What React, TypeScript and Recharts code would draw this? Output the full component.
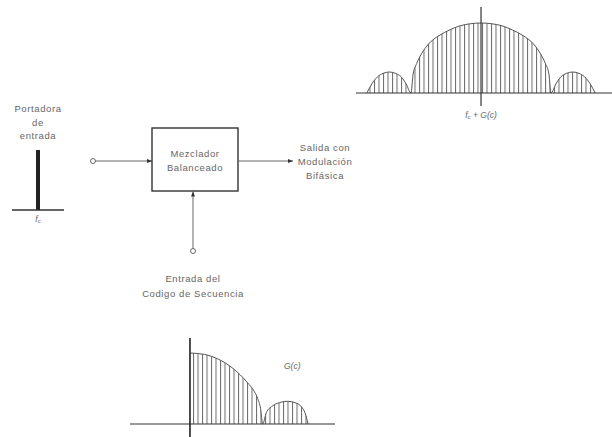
import React from 'react';
import {
  AreaChart,
  Area,
  BarChart,
  Bar,
  XAxis,
  YAxis,
  ReferenceLine,
  ReferenceDot,
} from 'recharts';

// spectrum of the modulated output (units of chip rate around fc)
const outFreq = [
  -1.63, -1.56, -1.48, -1.4, -1.31, -1.22, -1.14, -1.07, -1.0,
  -0.97, -0.92, -0.85, -0.75, -0.6, -0.45, -0.3, -0.15, 0,
  0.15, 0.3, 0.45, 0.6, 0.75, 0.85, 0.92, 0.97, 1.0,
  1.07, 1.14, 1.22, 1.31, 1.4, 1.48, 1.56, 1.63,
];
const outLevel = [
  0, 0.13, 0.23, 0.28, 0.3, 0.28, 0.23, 0.13, 0,
  0.27, 0.42, 0.56, 0.7, 0.82, 0.9, 0.96, 0.99, 1.0,
  0.99, 0.96, 0.9, 0.82, 0.7, 0.56, 0.42, 0.27, 0,
  0.13, 0.23, 0.28, 0.3, 0.28, 0.23, 0.13, 0,
];

// spectrum of the sequence code G(c)
const codeFreq = [0, 0.2, 0.4, 0.55, 0.7, 0.8, 0.88, 0.94, 0.98, 1.01, 1.06, 1.14, 1.24, 1.35, 1.46, 1.55, 1.6, 1.64];
const codeLevel = [1.0, 0.98, 0.91, 0.82, 0.69, 0.58, 0.48, 0.36, 0.22, 0, 0.16, 0.25, 0.3, 0.32, 0.3, 0.24, 0.15, 0];

// input carrier
const carrierFreq = ['fc'];
const carrierAmp = [1];

const outData = outFreq.map((f, i) => ({ f, v: outLevel[i] }));
const codeData = codeFreq.map((f, i) => ({ f, v: codeLevel[i] }));
const carrierData = carrierFreq.map((f, i) => ({ f, v: carrierAmp[i] }));

const FONT = '"Liberation Sans", Arial, sans-serif';
const INK = '#666';

const Hatch = ({ id }: { id: string }) => (
  <defs>
    <pattern id={id} patternUnits="userSpaceOnUse" width="4.5" height="10">
      <line x1="0.5" y1="0" x2="0.5" y2="10" stroke="#6a6a6a" strokeWidth="1" />
    </pattern>
  </defs>
);

const FcLabel = ({ x, y, extra }: { x: number; y: number; extra?: string }) => (
  <text x={x} y={y} textAnchor="middle" dominantBaseline="central" fontFamily={FONT} fontSize={8.5} fill={INK} fontStyle="italic">
    <tspan>f</tspan>
    <tspan fontSize={6} dy={2}>c</tspan>
    {extra ? <tspan dy={-2}>{extra}</tspan> : null}
  </text>
);

const Txt = ({ x, y, children }: { x: number; y: number; children: React.ReactNode }) => (
  <text x={x} y={y} textAnchor="middle" dominantBaseline="central" fontFamily={FONT} fontSize={9.5} letterSpacing={0.6} fill={INK}>
    {children}
  </text>
);

function Diagram() {
  return (
    <svg width={612} height={437} style={{ position: 'absolute', left: 0, top: 0 }}>
      <defs>
        <marker id="arr" markerWidth="6" markerHeight="6" refX="5" refY="3" orient="auto" markerUnits="userSpaceOnUse">
          <path d="M0,1 L5,3 L0,5 z" fill="#333" />
        </marker>
      </defs>
      <Txt x={38} y={108}>Portadora</Txt>
      <Txt x={38} y={122}>de</Txt>
      <Txt x={38} y={135}>entrada</Txt>

      <circle cx={93} cy={161} r={2.5} fill="#fff" stroke="#666" strokeWidth={1} />
      <line x1={95.5} y1={161} x2={152} y2={161} stroke="#666" strokeWidth={1} markerEnd="url(#arr)" />
      <rect x={152} y={128} width={86} height={63} fill="none" stroke="#333" strokeWidth={1.4} />
      <Txt x={195} y={153}>Mezclador</Txt>
      <Txt x={195} y={167}>Balanceado</Txt>
      <line x1={238} y1={161} x2={293} y2={161} stroke="#666" strokeWidth={1} markerEnd="url(#arr)" />
      <Txt x={325} y={147}>Salida con</Txt>
      <Txt x={325} y={161}>Modulación</Txt>
      <Txt x={325} y={175}>Bifásica</Txt>

      <circle cx={193} cy={251} r={2.5} fill="#fff" stroke="#666" strokeWidth={1} />
      <line x1={193} y1={248.5} x2={193} y2={191.5} stroke="#666" strokeWidth={1} markerEnd="url(#arr)" />
      <Txt x={193} y={278}>Entrada del</Txt>
      <Txt x={193} y={293}>Codigo de Secuencia</Txt>
    </svg>
  );
}

export default function App() {
  return (
    <div style={{ position: 'absolute', left: 0, top: 0, width: 612, height: 437, background: '#fff', overflow: 'hidden' }}>
      <Diagram />

      {/* output spectrum fc + G(c) */}
      <div style={{ position: 'absolute', left: 356, top: 7 }}>
        <AreaChart width={256} height={117} data={outData} margin={{ top: 0, right: 0, bottom: 0, left: 0 }}>
          <Hatch id="hatchTop" />
          <XAxis
            dataKey="f"
            type="number"
            domain={[-1.786, 1.871]}
            allowDataOverflow
            ticks={[0]}
            axisLine={false}
            tickLine={false}
            tickSize={0}
            tickMargin={0}
            height={18}
            tick={(p: any) => <FcLabel x={p.x} y={p.y + 9} extra=" + G(c)" />}
          />
          <YAxis type="number" domain={[-0.186, 1.229]} allowDataOverflow hide />
          <Area
            dataKey="v"
            type="monotone"
            baseValue={0}
            stroke="#555"
            strokeWidth={1}
            fill="url(#hatchTop)"
            fillOpacity={1}
            isAnimationActive={false}
            dot={false}
            activeDot={false}
          />
          <ReferenceLine y={0} stroke="#333" strokeWidth={1.2} />
          <ReferenceLine x={0} stroke="#333" strokeWidth={1.2} />
        </AreaChart>
      </div>

      {/* code spectrum G(c) */}
      <div style={{ position: 'absolute', left: 130, top: 338 }}>
        <AreaChart width={205} height={99} data={codeData} margin={{ top: 0, right: 0, bottom: 0, left: 0 }}>
          <Hatch id="hatchBottom" />
          <XAxis dataKey="f" type="number" domain={[-0.833, 2.014]} allowDataOverflow hide />
          <YAxis type="number" domain={[-0.183, 1.211]} allowDataOverflow hide />
          <Area
            dataKey="v"
            type="monotone"
            baseValue={0}
            stroke="#555"
            strokeWidth={1}
            fill="url(#hatchBottom)"
            fillOpacity={1}
            isAnimationActive={false}
            dot={false}
            activeDot={false}
          />
          <ReferenceLine y={0} stroke="#333" strokeWidth={1.2} />
          <ReferenceLine x={0} stroke="#222" strokeWidth={1.6} />
          <ReferenceDot
            x={1.42}
            y={0.82}
            r={0}
            fill="none"
            stroke="none"
            label={{ value: 'G(c)', position: 'center', fontFamily: FONT, fontSize: 8.5, fontStyle: 'italic', fill: INK }}
          />
        </AreaChart>
      </div>

      {/* input carrier */}
      <div style={{ position: 'absolute', left: 12, top: 150 }}>
        <BarChart width={52} height={78} data={carrierData} margin={{ top: 0, right: 0, bottom: 0, left: 0 }}>
          <XAxis
            dataKey="f"
            axisLine={{ stroke: '#333', strokeWidth: 1.6 }}
            tickLine={false}
            tickSize={0}
            tickMargin={0}
            height={18}
            tick={(p: any) => <FcLabel x={p.x} y={p.y + 9} />}
          />
          <YAxis type="number" domain={[0, 1]} hide />
          <Bar dataKey="v" fill="#222" barSize={4} isAnimationActive={false} />
        </BarChart>
      </div>
    </div>
  );
}
